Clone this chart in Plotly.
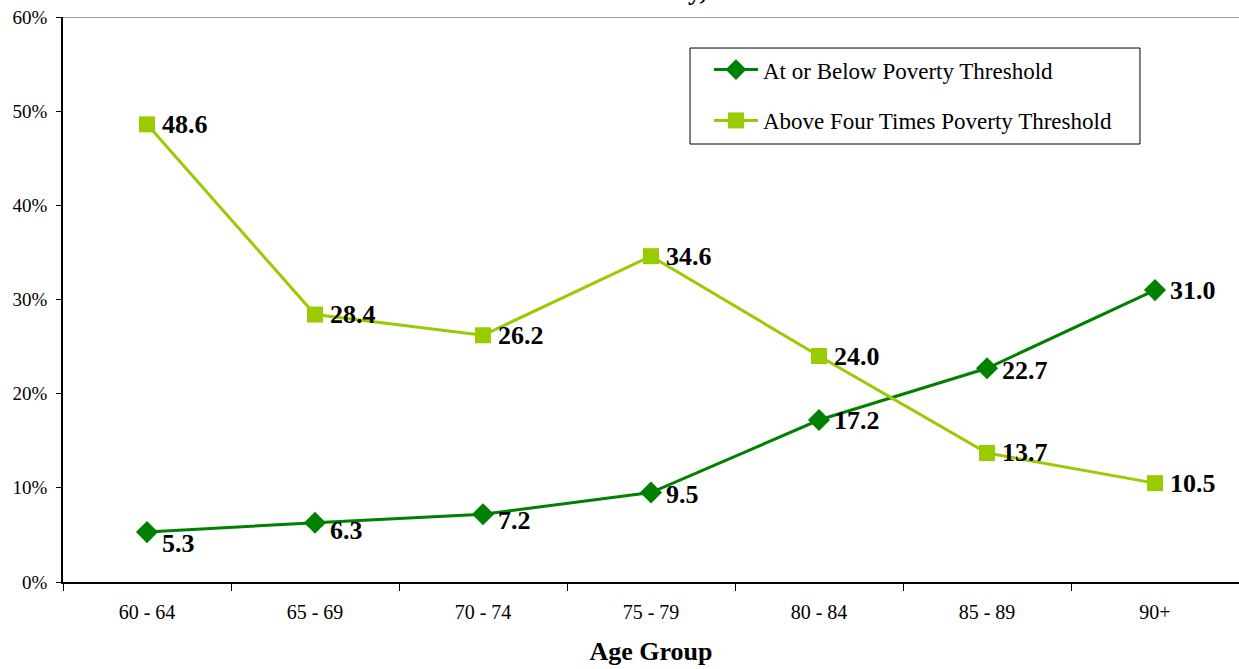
import plotly.graph_objects as go

# age groups and shares (%) for the two income groups
age_groups = ["60 - 64", "65 - 69", "70 - 74", "75 - 79", "80 - 84", "85 - 89", "90+"]
below_poverty = [5.3, 6.3, 7.2, 9.5, 17.2, 22.7, 31.0]
above_four_times = [48.6, 28.4, 26.2, 34.6, 24.0, 13.7, 10.5]

y_ticks = [0, 10, 20, 30, 40, 50, 60]
y_tick_labels = ["0%", "10%", "20%", "30%", "40%", "50%", "60%"]

DARK = "#008000"
LIGHT = "#99CC00"
SERIF = "Liberation Serif, Times New Roman, serif"

fig = go.Figure()

fig.add_trace(go.Scatter(
    x=age_groups, y=below_poverty,
    name="At or Below Poverty Threshold",
    mode="lines+markers",
    line=dict(color=DARK, width=3),
    marker=dict(symbol="diamond", size=17, color=DARK),
    legendgroup="a",
))

fig.add_trace(go.Scatter(
    x=age_groups, y=above_four_times,
    name="Above Four Times Poverty Threshold",
    mode="lines+markers",
    line=dict(color=LIGHT, width=3),
    marker=dict(symbol="square", size=16, color=LIGHT),
    legendgroup="b",
))

# data labels: to the right of the markers, the low dark-green ones pushed down a bit
label_font = dict(family=SERIF, size=26, color="black", weight="bold")
dark_drop = [-11, -8, -6, -2, 0, -2, 0]
for cat, val, dy in zip(age_groups, below_poverty, dark_drop):
    fig.add_annotation(x=cat, y=val, text=f"{val:.1f}", showarrow=False,
                       xanchor="left", xshift=13, yshift=dy, font=label_font)
for cat, val in zip(age_groups, above_four_times):
    fig.add_annotation(x=cat, y=val, text=f"{val:.1f}", showarrow=False,
                       xanchor="left", xshift=13, font=label_font)

# top border of the plot area
fig.add_shape(type="line", xref="paper", yref="y", x0=0, x1=1, y0=60, y1=60,
              line=dict(color="#999999", width=2))

# legend frame
fig.add_shape(type="rect", xref="paper", yref="paper",
              x0=0.5332, x1=0.9158, y0=0.7752, y1=0.9451,
              line=dict(color="black", width=1), fillcolor="white", layer="below")

# fragment of the (cropped) chart title
fig.add_annotation(text="<b>y,</b>", xref="paper", yref="paper", x=0.539, y=1,
                   yanchor="bottom", yshift=9, showarrow=False,
                   font=dict(family=SERIF, size=26, color="black"))

fig.update_layout(
    width=1239, height=669,
    margin=dict(l=63, r=0, t=17, b=87),
    plot_bgcolor="white", paper_bgcolor="white",
    font=dict(family=SERIF, size=20, color="black"),
    showlegend=True,
    legend=dict(
        x=0.5493, y=0.945, xanchor="left", yanchor="top",
        borderwidth=0, bgcolor="rgba(0,0,0,0)",
        font=dict(family=SERIF, size=23, color="black"),
        traceorder="grouped", tracegroupgap=18,
        itemwidth=44,
    ),
    xaxis=dict(
        type="category", tickson="boundaries",
        showline=True, linecolor="black", linewidth=1.5,
        ticks="outside", ticklen=7, tickcolor="black",
        showgrid=False, range=[-0.5, 6.5],
        tickfont=dict(family=SERIF, size=20), ticklabelstandoff=11,
        title=dict(text="<b>Age Group</b>", font=dict(family=SERIF, size=26), standoff=20),
    ),
    yaxis=dict(
        range=[0, 60], tickvals=y_ticks, ticktext=y_tick_labels,
        showline=True, linecolor="black", linewidth=1.5,
        ticks="outside", ticklen=5, tickcolor="black",
        showgrid=False, zeroline=False,
        tickfont=dict(family=SERIF, size=19), ticklabelstandoff=5,
    ),
)

# drop the default page margin so the figure sits at the window's corner
fig.write_html("out.html", config={"displayModeBar": False},
               post_script="document.body.style.margin='0';")
